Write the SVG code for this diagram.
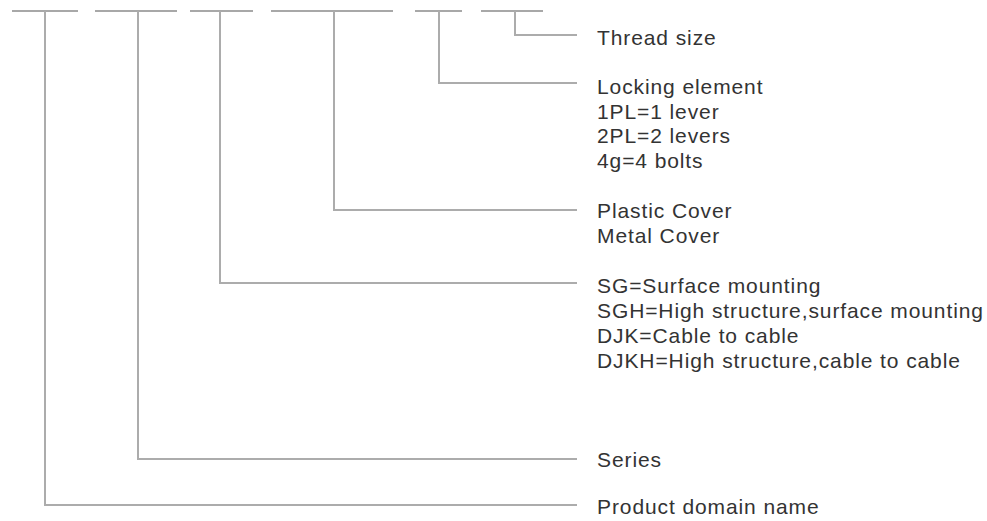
<svg xmlns="http://www.w3.org/2000/svg" width="987" height="521" viewBox="0 0 987 521">
<style>
.bar{stroke:#a8a8a8;stroke-width:2;fill:none}
.con{stroke:#acacac;stroke-width:2;fill:none}
.lbl{font-family:"Liberation Sans",Arial,sans-serif;font-size:21px;letter-spacing:0.9px;fill:#333333}
</style>
<rect width="987" height="521" fill="#ffffff"/>
<g id="code-segments">
<line class="bar" x1="12" y1="11" x2="78" y2="11"/>
<line class="bar" x1="95" y1="11" x2="177" y2="11"/>
<line class="bar" x1="190" y1="11" x2="253" y2="11"/>
<line class="bar" x1="271" y1="11" x2="393" y2="11"/>
<line class="bar" x1="415" y1="11" x2="462" y2="11"/>
<line class="bar" x1="481" y1="11" x2="543" y2="11"/>
</g>
<g id="connectors">
<polyline class="con" points="515,11 515,35 577,35"/>
<polyline class="con" points="439,11 439,83 577,83"/>
<polyline class="con" points="334,11 334,210 577,210"/>
<polyline class="con" points="220,11 220,283 577,283"/>
<polyline class="con" points="138,11 138,459 577,459"/>
<polyline class="con" points="45,11 45,505 577,505"/>
</g>
<g id="thread-size"><text class="lbl" x="597" y="45">Thread size</text></g>
<g id="locking-element">
<text class="lbl" x="597" y="94">Locking element</text>
<text class="lbl" x="597" y="119">1PL=1 lever</text>
<text class="lbl" x="597" y="143">2PL=2 levers</text>
<text class="lbl" x="597" y="168">4g=4 bolts</text>
</g>
<g id="cover">
<text class="lbl" x="597" y="218">Plastic Cover</text>
<text class="lbl" x="597" y="243">Metal Cover</text>
</g>
<g id="mounting">
<text class="lbl" x="597" y="293">SG=Surface mounting</text>
<text class="lbl" x="597" y="318">SGH=High structure,surface mounting</text>
<text class="lbl" x="597" y="343">DJK=Cable to cable</text>
<text class="lbl" x="597" y="368">DJKH=High structure,cable to cable</text>
</g>
<g id="series"><text class="lbl" x="597" y="467">Series</text></g>
<g id="product-domain"><text class="lbl" x="597" y="514">Product domain name</text></g>
</svg>
